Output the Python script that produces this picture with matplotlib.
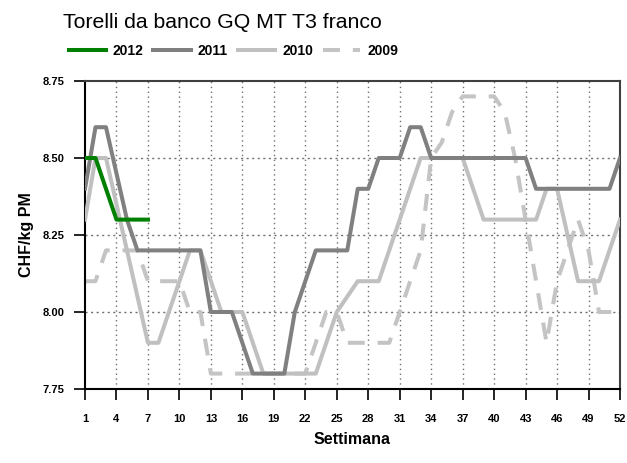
import matplotlib
matplotlib.use("Agg")
import matplotlib.pyplot as plt
import numpy as np

# dati (settimane 1-52, CHF/kg PM)
weeks = np.arange(1, 53)
weeks_2012 = np.arange(1, 8)

y2012 = [8.5, 8.5, 8.4, 8.3, 8.3, 8.3, 8.3]

y2011 = [8.4, 8.6, 8.6, 8.45, 8.3, 8.2, 8.2, 8.2, 8.2, 8.2,
         8.2, 8.2, 8.0, 8.0, 8.0, 7.9, 7.8, 7.8, 7.8, 7.8,
         8.0, 8.1, 8.2, 8.2, 8.2, 8.2, 8.4, 8.4, 8.5, 8.5,
         8.5, 8.6, 8.6, 8.5, 8.5, 8.5, 8.5, 8.5, 8.5, 8.5,
         8.5, 8.5, 8.5, 8.4, 8.4, 8.4, 8.4, 8.4, 8.4, 8.4,
         8.4, 8.5]

y2010 = [8.3, 8.5, 8.5, 8.35, 8.2, 8.05, 7.9, 7.9, 8.0, 8.1,
         8.2, 8.2, 8.1, 8.0, 8.0, 8.0, 7.9, 7.8, 7.8, 7.8,
         7.8, 7.8, 7.8, 7.9, 8.0, 8.05, 8.1, 8.1, 8.1, 8.2,
         8.3, 8.4, 8.5, 8.5, 8.5, 8.5, 8.5, 8.4, 8.3, 8.3,
         8.3, 8.3, 8.3, 8.3, 8.4, 8.4, 8.25, 8.1, 8.1, 8.1,
         8.2, 8.3]

y2009 = [8.1, 8.1, 8.2, 8.2, 8.2, 8.2, 8.1, 8.1, 8.1, 8.1,
         8.0, 8.0, 7.8, 7.8, 7.8, 7.8, 7.8, 7.8, 7.8, 7.8,
         7.8, 7.8, 7.9, 8.0, 8.0, 7.9, 7.9, 7.9, 7.9, 7.9,
         8.0, 8.1, 8.2, 8.5, 8.55, 8.65, 8.7, 8.7, 8.7, 8.7,
         8.65, 8.5, 8.3, 8.1, 7.9, 8.1, 8.2, 8.3, 8.2, 8.0,
         8.0, 8.0]

xticks = list(range(1, 53, 3))
yticks = [7.75, 8.00, 8.25, 8.50, 8.75]

plt.rcParams['font.family'] = ['Liberation Sans', 'DejaVu Sans']

fig = plt.figure(figsize=(6.27, 4.63), dpi=100)
ax = fig.add_axes([85 / 627, 74 / 463, 535 / 627, 308 / 463])

ax.plot(weeks, y2009, color="#c4c4c4", lw=2.9, ls=(0, (4.2, 3.2)), zorder=2, label="2009")
ax.plot(weeks, y2010, color="#c0c0c0", lw=2.9, zorder=3, label="2010")
ax.plot(weeks, y2011, color="#808080", lw=2.9, zorder=4, label="2011")
ax.plot(weeks_2012, y2012, color="#008000", lw=2.9, zorder=5, label="2012")

ax.set_xlim(1, 52)
ax.set_ylim(7.75, 8.75)
ax.set_xticks(xticks)
ax.set_yticks(yticks)
ax.set_yticklabels([f"{v:.2f}" for v in yticks])
ax.tick_params(direction="out", length=8, width=1.2, labelsize=8)
ax.tick_params(axis="x", pad=10)
ax.tick_params(axis="y", pad=7)
for lab in ax.get_xticklabels() + ax.get_yticklabels():
    lab.set_fontweight("bold")

# griglia punteggiata
for x in xticks[1:-1]:
    ax.axvline(x, color="#707070", lw=1, ls=(0, (1, 2.5)), zorder=1)
for y in yticks[1:-1]:
    ax.axhline(y, color="#707070", lw=1, ls=(0, (1.5, 2.5)), zorder=1)

for s in ["left", "bottom"]:
    ax.spines[s].set_color("black")
    ax.spines[s].set_linewidth(1.5)
for s in ["top", "right"]:
    ax.spines[s].set_color("#404040")
    ax.spines[s].set_linewidth(1.5)

ax.set_xlabel("Settimana", fontsize=11.5, fontweight="bold", labelpad=6)
ax.set_ylabel("CHF/kg PM", fontsize=11.5, fontweight="bold", labelpad=6)

fig.text(63 / 627, 1 - 22 / 463, "Torelli da banco GQ MT T3 franco", fontsize=15.3, va="center")

handles, labels = ax.get_legend_handles_labels()
order = [3, 2, 1, 0]
leg = fig.legend([handles[i] for i in order], [labels[i] for i in order],
                 loc="center left", bbox_to_anchor=(56 / 627, 1 - 51 / 463),
                 ncol=4, frameon=False, handlelength=2.7, handletextpad=0.5,
                 columnspacing=0.7, prop={"weight": "bold", "size": 10})

fig.savefig("out.png", dpi=100)
